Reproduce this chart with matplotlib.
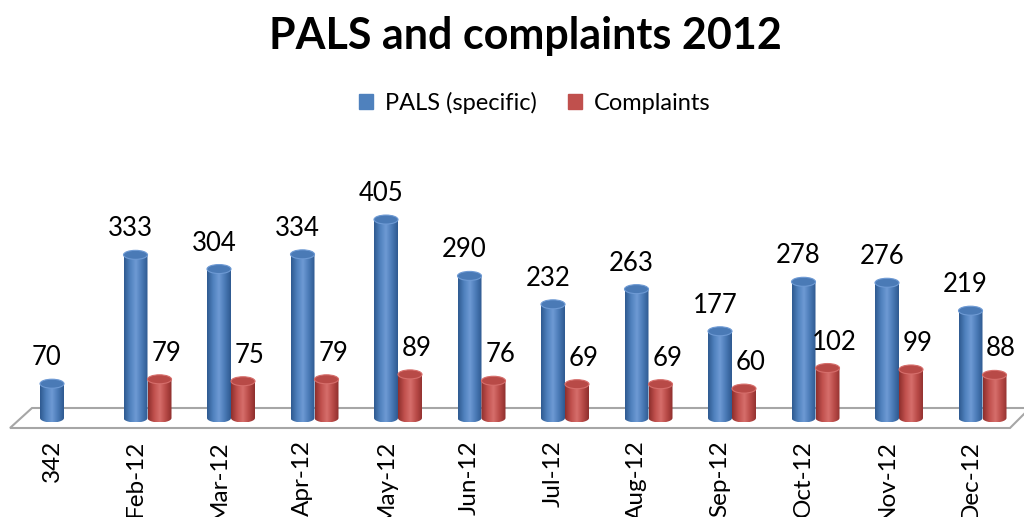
import numpy as np
import matplotlib
matplotlib.use("Agg")
import matplotlib.pyplot as plt
from matplotlib.colors import LinearSegmentedColormap
from matplotlib.patches import Ellipse, Polygon, Patch

plt.rcParams["font.family"] = ["Lato", "DejaVu Sans"]

# dados do gráfico
categorias = ["342", "Feb-12", "Mar-12", "Apr-12", "May-12", "Jun-12",
              "Jul-12", "Aug-12", "Sep-12", "Oct-12", "Nov-12", "Dec-12"]
pals = [70, 333, 304, 334, 405, 290, 232, 263, 177, 278, 276, 219]
reclamacoes = [np.nan, 79, 75, 79, 89, 76, 69, 69, 60, 102, 99, 88]

azul = ["#2f5a91", "#4f81bd", "#6e9ad4", "#4a7ab6", "#2f5a91"]
vermelho = ["#8e2f2d", "#c0504d", "#d66e6b", "#b84a47", "#8e2f2d"]

fig = plt.figure(figsize=(10.24, 5.17), dpi=100)
ax = fig.add_axes([0, 1 - 440 / 517, 1, 300 / 517])
ax.set_axis_off()

px_x = 83.5          # pixels por categoria
px_y = 0.49          # pixels por unidade
x0, x1 = -52 / px_x, (1024 - 52) / px_x
y0, y1 = -22 / px_y, (418 - 140) / px_y

w = 24 / px_x
e = 4.5 / px_y


def cilindro(x, v, cores):
    if np.isnan(v):
        return
    cmap = LinearSegmentedColormap.from_list("c", cores)
    t = np.linspace(0, np.pi, 40)
    arco = [(x - w / 2 * np.cos(a), -e * np.sin(a)) for a in t]
    pts = [(x - w / 2, v)] + arco + [(x + w / 2, v)]
    poly = Polygon(pts, closed=True, facecolor="none", edgecolor="none")
    ax.add_patch(poly)
    grad = np.linspace(0, 1, 60).reshape(1, -1)
    im = ax.imshow(grad, cmap=cmap, extent=(x - w / 2, x + w / 2, -e, v),
                   aspect="auto", zorder=3)
    im.set_clip_path(poly)
    topo = Ellipse((x, v), w, 2 * e, facecolor=cores[3],
                   edgecolor=cores[2], lw=0.8, zorder=4)
    ax.add_patch(topo)


# piso
def px(p):
    return (p[0] - 52) / px_x, (418 - p[1]) / px_y


piso = [px((10, 428)), px((1010, 428)), px((1030, 408)), px((32, 408))]
ax.add_patch(Polygon(piso, closed=True, facecolor="white",
                     edgecolor="#a6a6a6", lw=1.5, zorder=1, clip_on=False))

for i in range(len(categorias)):
    cilindro(i, pals[i], azul)
    cilindro(i + w, reclamacoes[i], vermelho)
    ax.text(i - 0.06, pals[i] + e + 9 / px_y, str(pals[i]), ha="center",
            va="bottom", fontsize=18.5, zorder=5)
    if not np.isnan(reclamacoes[i]):
        ax.text(i + w + 0.08, reclamacoes[i] + e + 9 / px_y,
                str(int(reclamacoes[i])), ha="center", va="bottom",
                fontsize=18.5, zorder=5)
    ax.text(i, y0, categorias[i], rotation=90, ha="center", va="top",
            fontsize=17.5)

ax.set_xlim(x0, x1)
ax.set_ylim(y0, y1)

fig.text(0.513, 1 - 36 / 517, "PALS and complaints 2012", ha="center",
         va="center", fontsize=31, fontweight="bold")

handles = [Patch(color="#4f81bd", label="PALS (specific)"),
           Patch(color="#c0504d", label="Complaints")]
fig.legend(handles=handles, loc="center", bbox_to_anchor=(0.522, 1 - 103 / 517),
           ncol=2, frameon=False, fontsize=17, handlelength=0.6,
           handleheight=0.6, columnspacing=1.3, handletextpad=0.5)

fig.savefig("out.png", dpi=100)
